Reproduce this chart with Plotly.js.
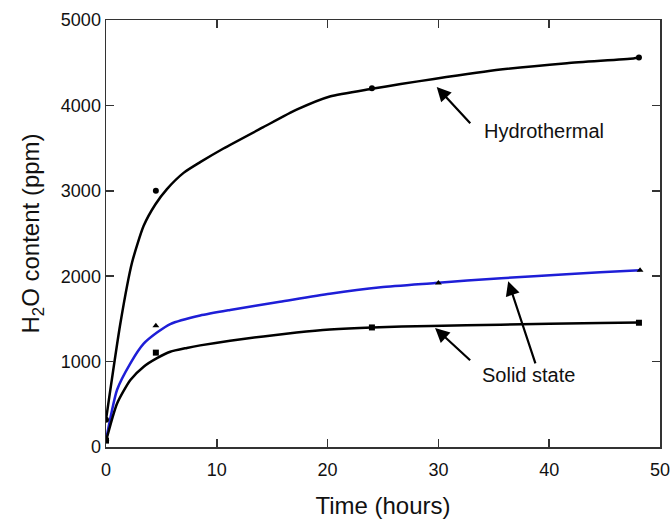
<!DOCTYPE html>
<html>
<head>
<meta charset="utf-8">
<script src="https://cdn.plot.ly/plotly-3.0.1.min.js"></script>
<style>html,body{margin:0;padding:0;background:#fff;}#chart{width:672px;height:520px;}</style>
</head>
<body>
<div id="chart"></div>
<script>
// Measured data points
const hydroTime = [0, 4.5, 24, 48.1];
const hydroVal = [320, 3000, 4200, 4560];
const blueTime = [0, 4.5, 30, 48.2];
const blueVal = [90, 1420, 1920, 2070];
const solidTime = [0, 4.5, 24, 48.1];
const solidVal = [75, 1105, 1400, 1455];

// Fitted curves
const hydroFitT = [0, 1.3, 2.35, 3.4, 4.45, 5.5, 7.0, 8.5, 10.6, 14.2, 17.2, 20.2, 24.0, 26.6, 29.6, 35.6, 41.6, 47.6, 48.1];
const hydroFitV = [320, 1450, 2160, 2590, 2840, 3020, 3210, 3335, 3495, 3745, 3950, 4105, 4195, 4250, 4310, 4420, 4495, 4550, 4560];
const blueFitT = [0, 1.0, 2.2, 3.4, 4.6, 5.8, 8.5, 11.2, 15.7, 20.2, 24.8, 29.7, 32.6, 38.6, 44.6, 48.2];
const blueFitV = [80, 670, 980, 1210, 1340, 1440, 1540, 1605, 1700, 1795, 1870, 1920, 1950, 2000, 2045, 2070];
const solidFitT = [0, 1.0, 2.2, 3.4, 4.6, 5.8, 7.3, 8.5, 11.2, 14.2, 17.2, 20.2, 24.0, 29.3, 35.6, 44.6, 48.1];
const solidFitV = [70, 510, 785, 940, 1040, 1115, 1160, 1190, 1245, 1295, 1340, 1375, 1400, 1418, 1432, 1452, 1458];

const xTicks = [0, 10, 20, 30, 40, 50];
const yTicks = [0, 1000, 2000, 3000, 4000, 5000];

const blue = 'rgb(30,30,215)';
const traces = [
  {x: hydroFitT, y: hydroFitV, mode: 'lines', line: {color: '#000', width: 2.5, shape: 'spline', smoothing: 0.6}, hoverinfo: 'skip'},
  {x: blueFitT, y: blueFitV, mode: 'lines', line: {color: blue, width: 2.5, shape: 'spline', smoothing: 0.6}, hoverinfo: 'skip'},
  {x: solidFitT, y: solidFitV, mode: 'lines', line: {color: '#000', width: 2.5, shape: 'spline', smoothing: 0.6}, hoverinfo: 'skip'},
  {x: hydroTime, y: hydroVal, mode: 'markers', marker: {symbol: 'circle', size: 6, color: '#000'}},
  {x: blueTime, y: blueVal, mode: 'markers', marker: {symbol: 'triangle-up', size: 6, color: '#000'}},
  {x: solidTime, y: solidVal, mode: 'markers', marker: {symbol: 'square', size: 6, color: '#000'}}
];

const font = 'Liberation Sans, Arial, sans-serif';
const arrow = (x, y, ax, ay) => ({x: x, y: y, ax: ax, ay: ay, axref: 'x', ayref: 'y', xref: 'x', yref: 'y',
  text: '', showarrow: true, arrowhead: 2, arrowsize: 1.3, arrowwidth: 2.2, arrowcolor: '#000'});

const layout = {
  width: 672, height: 520,
  margin: {l: 106, r: 12, t: 20, b: 73},
  paper_bgcolor: '#fff', plot_bgcolor: '#fff',
  showlegend: false,
  font: {family: font, color: '#000'},
  xaxis: {
    range: [0, 50], tickvals: xTicks, ticktext: xTicks.map(String),
    ticks: 'inside', ticklen: 8, tickwidth: 1.5, tickcolor: '#333',
    showline: true, linecolor: '#333', linewidth: 1.5, mirror: 'ticks',
    showgrid: false, zeroline: false, ticklabelstandoff: 6,
    tickfont: {size: 18, family: font, color: '#111'},
    title: {text: 'Time (hours)', font: {size: 24, family: font, color: '#111'}, standoff: 18}
  },
  yaxis: {
    range: [0, 5000], tickvals: yTicks, ticktext: yTicks.map(String),
    ticks: 'inside', ticklen: 8, tickwidth: 1.5, tickcolor: '#333',
    showline: true, linecolor: '#333', linewidth: 1.5, mirror: 'ticks',
    showgrid: false, zeroline: false,
    tickfont: {size: 18, family: font, color: '#111'},
    title: {text: 'H<sub>2</sub>O content (ppm)', font: {size: 24, family: font, color: '#111'}, standoff: 14}
  },
  annotations: [
    arrow(29.85, 4216, 33.0, 3773),
    arrow(29.7, 1393, 33.0, 1000),
    arrow(36.3, 1941, 38.8, 961),
    {x: 39.5, y: 3706, xref: 'x', yref: 'y', text: 'Hydrothermal', showarrow: false, font: {size: 20, family: font, color: '#111'}},
    {x: 38.1, y: 844, xref: 'x', yref: 'y', text: 'Solid state', showarrow: false, font: {size: 20, family: font, color: '#111'}}
  ]
};

Plotly.newPlot('chart', traces, layout, {staticPlot: true, displayModeBar: false});
</script>
</body>
</html>
